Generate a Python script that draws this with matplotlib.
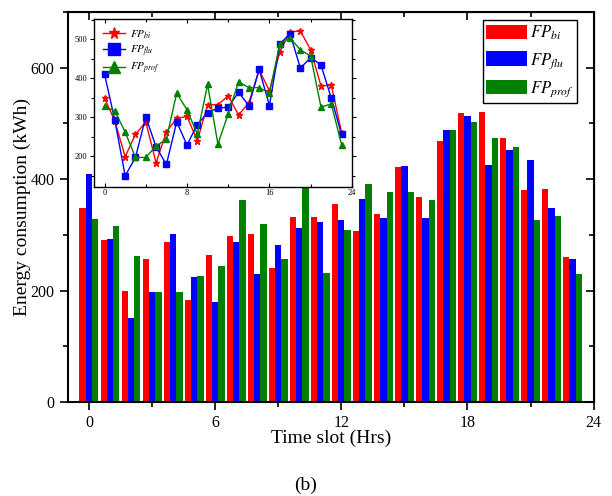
import numpy as np
import matplotlib
matplotlib.use("Agg")
from matplotlib import pyplot as plt
from matplotlib.ticker import MultipleLocator

plt.rcParams['font.family'] = ['Liberation Serif', 'DejaVu Serif']
plt.rcParams['mathtext.fontset'] = 'stix'

hours = np.arange(24)
fp_bi = [349, 290, 199, 256, 288, 183, 263, 297, 302, 240, 332, 332,
         355, 306, 337, 421, 368, 468, 519, 521, 473, 380, 383, 260]
fp_flu = [410, 292, 150, 197, 301, 224, 179, 288, 229, 281, 312, 323,
          326, 364, 330, 423, 330, 488, 514, 426, 453, 434, 349, 256]
fp_prof = [328, 316, 262, 197, 197, 226, 244, 362, 319, 257, 384, 231,
           309, 391, 376, 376, 362, 488, 503, 473, 457, 326, 334, 230]

labels = [r'$FP_{bi}$', r'$FP_{flu}$', r'$FP_{prof}$']
colors = ['#ff0000', '#0000ff', '#008000']
series = [fp_bi, fp_flu, fp_prof]

fig = plt.figure(figsize=(6.12, 4.96), dpi=100)
ax = fig.add_axes([0.111, 0.1895, 0.859, 0.7865])

# grouped bars
width = 0.3
for k, (vals, c, lab) in enumerate(zip(series, colors, labels)):
    ax.bar(hours + (k - 1) * width, vals, width=width, color=c, label=lab)

ax.set_xlim(-1, 24)
ax.set_ylim(0, 700)
ax.xaxis.set_major_locator(MultipleLocator(6))
ax.xaxis.set_minor_locator(MultipleLocator(3))
ax.yaxis.set_major_locator(MultipleLocator(200))
ax.yaxis.set_minor_locator(MultipleLocator(100))
ax.tick_params(which='both', direction='out', labelsize=11.5, width=1.2)
ax.tick_params(which='major', length=6)
ax.tick_params(which='minor', length=3.5)
for s in ax.spines.values():
    s.set_linewidth(1.5)

# mirrored ticks pointing inward
top = ax.secondary_xaxis('top')
top.xaxis.set_major_locator(MultipleLocator(6))
top.xaxis.set_minor_locator(MultipleLocator(3))
top.tick_params(which='both', direction='in', labeltop=False, width=1.2)
top.tick_params(which='major', length=6)
top.tick_params(which='minor', length=3.5)
right = ax.secondary_yaxis('right')
right.yaxis.set_major_locator(MultipleLocator(200))
right.yaxis.set_minor_locator(MultipleLocator(100))
right.tick_params(which='both', direction='in', labelright=False, width=1.2)
right.tick_params(which='major', length=6)
right.tick_params(which='minor', length=3.5)

ax.set_xlabel('Time slot (Hrs)', fontsize=14, labelpad=-1)
ax.set_ylabel('Energy consumption (kWh)', fontsize=14, labelpad=0)

leg = ax.legend(loc='upper right', bbox_to_anchor=(0.9686, 0.979), fontsize=12,
                handlelength=2.45, handleheight=0.95, handletextpad=0.2,
                labelspacing=0.55, borderpad=0.2, borderaxespad=0,
                fancybox=False, edgecolor='black', framealpha=1)
leg.get_frame().set_linewidth(1.0)

# inset with the same data as lines
axi = fig.add_axes([0.154, 0.6236, 0.421, 0.3374])
markers = ['*', 's', '^']
for vals, c, m, lab in zip(series, colors, markers, labels):
    axi.plot(hours, vals, color=c, marker=m, markersize=4.5, linewidth=1,
             label=lab, clip_on=False)
axi.set_xlim(-1, 24)
axi.set_ylim(122, 551)
axi.xaxis.set_major_locator(MultipleLocator(8))
axi.xaxis.set_minor_locator(MultipleLocator(4))
axi.yaxis.set_major_locator(MultipleLocator(100))
axi.yaxis.set_minor_locator(MultipleLocator(50))
axi.tick_params(which='both', direction='in', top=True, right=True,
                labelsize=6, width=0.8, pad=2)
axi.tick_params(axis='y', which='both', direction='out')
axi.tick_params(which='major', length=3)
axi.tick_params(which='minor', length=2)
for s in axi.spines.values():
    s.set_linewidth(1.0)
axi.legend(loc='upper left', fontsize=8, frameon=False, markerscale=1.8,
           handlelength=2.0, handletextpad=0.4, labelspacing=0.25,
           borderpad=0.3)

fig.text(0.5, 0.022, '(b)', ha='center', va='center', fontsize=14)

fig.savefig('out.png', dpi=100)
